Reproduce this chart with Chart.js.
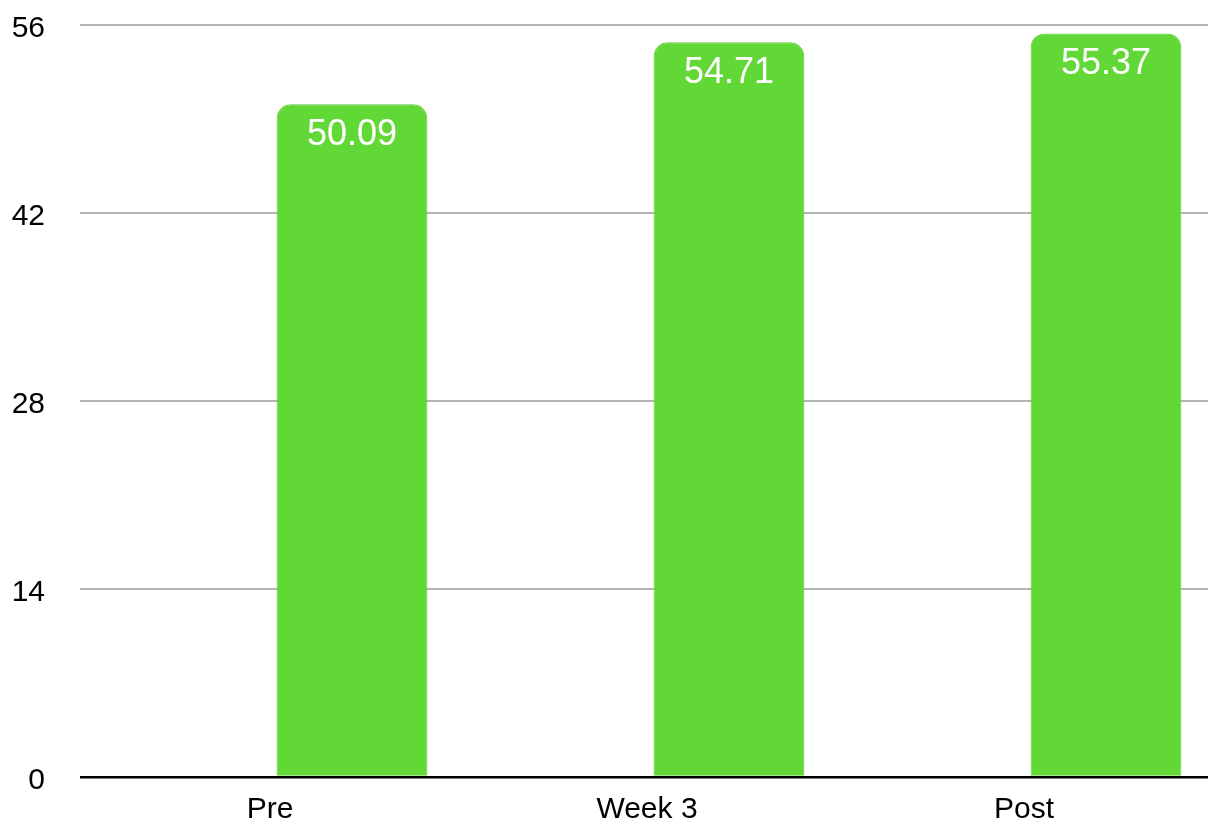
<!DOCTYPE html>
<html>
<head>
<meta charset="utf-8">
<script src="https://cdn.jsdelivr.net/npm/chart.js@4"></script>
<style>
  html, body { margin: 0; padding: 0; background: #fff; }
</style>
</head>
<body>
<canvas id="bar-chart" width="1208" height="823"></canvas>
<script>
// chart data
var categories = ['Pre', 'Week 3', 'Post'];
var values = [50.09, 54.71, 55.37];
var yTicks = [0, 14, 28, 42, 56];

// visible x range (the source chart is cut off on the right)
var xMin = -0.7215;
var xMax = 2.2706;

var fontFamily = "'Liberation Sans', Arial, Helvetica, sans-serif";

// draws the value inside the top of each bar
var valueLabels = {
    id: 'valueLabels',
    afterDatasetsDraw: function(chart) {
        var ctx = chart.ctx;
        var meta = chart.getDatasetMeta(0);
        ctx.save();
        ctx.fillStyle = '#ffffff';
        ctx.font = '36px ' + fontFamily;
        ctx.textAlign = 'center';
        ctx.textBaseline = 'middle';
        meta.data.forEach(function(bar, i) {
            ctx.fillText(values[i].toFixed(2), bar.x, bar.y + 31);
        });
        ctx.restore();
    }
};

var ctx = document.getElementById('bar-chart').getContext('2d');

var myChart = new Chart(ctx, {
    type: 'bar',
    data: {
        datasets: [{
            data: values.map(function(v, i) { return { x: i, y: v }; }),
            backgroundColor: '#61d836',
            borderColor: '#5bcc33',
            borderWidth: 1,
            borderSkipped: 'bottom',
            borderRadius: { topLeft: 14, topRight: 14, bottomLeft: 0, bottomRight: 0 },
            categoryPercentage: 0.4,
            barPercentage: 1.0
        }]
    },
    options: {
        responsive: false,
        animation: false,
        layout: { padding: { top: 25, right: 0, bottom: 0, left: 0 } },
        plugins: {
            legend: { display: false },
            tooltip: { enabled: false }
        },
        scales: {
            x: {
                type: 'linear',
                min: xMin,
                max: xMax,
                offset: false,
                afterBuildTicks: function(scale) {
                    scale.ticks = categories.map(function(c, i) { return { value: i }; });
                },
                afterFit: function(scale) {
                    scale.height = 46;
                    scale.paddingLeft = 0;
                    scale.paddingRight = 0;
                },
                grid: { display: false, drawTicks: false, offset: false },
                border: { display: false },
                ticks: {
                    color: '#000',
                    font: { family: fontFamily, size: 30 },
                    padding: 15,
                    labelOffset: -82,
                    autoSkip: false,
                    maxRotation: 0,
                    callback: function(v) { return categories[v]; }
                }
            },
            y: {
                min: 0,
                max: 56,
                afterBuildTicks: function(scale) {
                    scale.ticks = yTicks.map(function(v) { return { value: v }; });
                },
                afterFit: function(scale) {
                    scale.width = 80;
                    scale.paddingTop = 0;
                    scale.paddingBottom = 0;
                },
                border: { display: false },
                grid: {
                    drawTicks: false,
                    color: function(c) { return c.tick && c.tick.value === 0 ? '#000000' : '#b4b4b4'; },
                    lineWidth: function(c) { return c.tick && c.tick.value === 0 ? 2.5 : 2; }
                },
                ticks: {
                    color: '#000',
                    font: { family: fontFamily, size: 30 },
                    padding: 35,
                    labelOffset: 4
                }
            }
        }
    },
    plugins: [valueLabels]
});
</script>
</body>
</html>
